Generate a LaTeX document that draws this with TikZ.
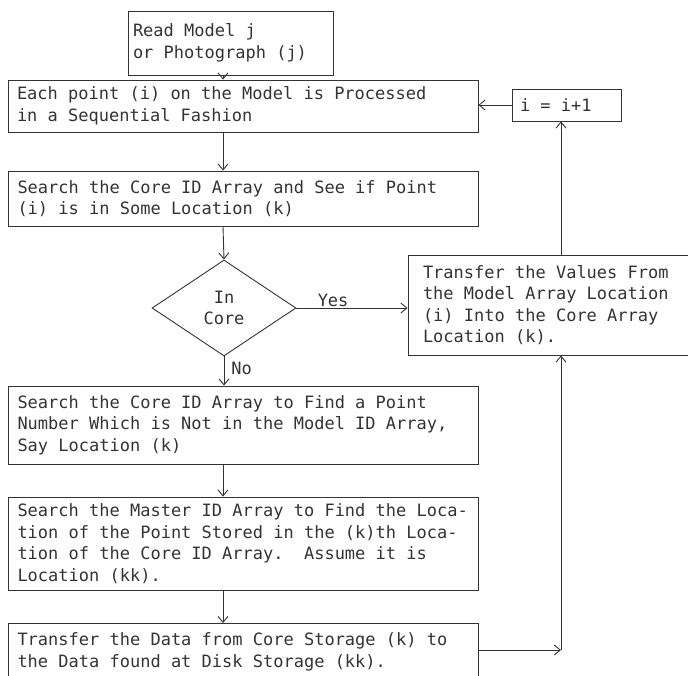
\documentclass[tikz,border=0pt]{standalone}
\usepackage{fontspec}
\setmonofont{DejaVu Sans Mono}
\usetikzlibrary{shapes.geometric, arrows.meta}
\definecolor{ink}{gray}{0.2}
\newcommand\fullspaces{\spaceskip=0.602em\xspaceskip=0.602em\relax}

\begin{document}
\begin{tikzpicture}[x=1pt, y=-1pt, line width=0.9pt, color=ink,
  font=\ttfamily\fontsize{17}{21.5}\selectfont,
  execute at begin node=\fullspaces,
  box/.style={shape=rectangle, draw=ink, align=left, inner xsep=9pt, text width=452pt},
  flow/.style={draw=ink, -{Straight Barb[length=6pt, width=10pt]}},
  lbl/.style={inner sep=1pt}]
\useasboundingbox (0,0) rectangle (688,675);
\clip (0,0) rectangle (688,675);
\coordinate (spine) at (223,0);
\node[box, minimum height=64pt, text width=195pt, inner xsep=5pt] (read) at (230.5,43) {Read Model j\\or Photograph (j)};
\node[box, minimum height=52pt] (each) at (243,106) {Each point (i) on the Model is Processed\\in a Sequential Fashion};
\node[box, minimum height=55pt] (find) at (243.5,198.5) {Search the Core ID Array and See if Point\\(i) is in Some Location (k)};
\node[shape=diamond, draw=ink, minimum width=144pt, minimum height=96pt, inner sep=0pt, align=center] (incore) at (224,308) {In\\Core};
\node[box, minimum height=100pt, text width=262pt, inner xsep=15pt] (move) at (554,305) {Transfer the Values From\\the Model Array Location\\(i) Into the Core Array\\Location (k).};
\node[box, minimum height=32pt, text width=93pt, inner xsep=8pt] (incr) at (566.5,105) {i = i+1};
\node[box, minimum height=78pt] (free) at (243.5,425) {Search the Core ID Array to Find a Point\\Number Which is Not in the Model ID Array,\\Say Location (k)};
\node[box, minimum height=93pt] (master) at (243.5,543.5) {Search the Master ID Array to Find the Loca-\\tion of the Point Stored in the (k)th Loca-\\tion of the Core ID Array.~~Assume it is\\Location (kk).};
\node[box, anchor=north, inner ysep=9.5pt] (store) at (243.5,623) {Transfer the Data from Core Storage (k) to\\the Data found at Disk Storage (kk).};

\draw[flow] (spine |- read.south) -- (spine |- each.north);
\draw[flow] (spine |- each.south) -- (spine |- find.north);
\draw[flow] (spine |- find.south) -- (incore.north);
\draw[flow] (incore.east) -- node[lbl, above, pos=0.33] (yes) {Yes} (incore.east -| move.west);
\draw[flow] (incore.south) -- node[lbl, right=6pt, pos=0.4] (no) {No} (incore.south |- free.north);
\draw[flow] (spine |- free.south) -- (spine |- master.north);
\draw[flow] (spine |- master.south) -- (spine |- store.north);
\coordinate (back) at (561,650);
\draw[flow] (store.east |- back) -- (back);
\draw[flow] (back) -- (back |- move.south);
\draw[flow] (back |- move.north) -- (back |- incr.south);
\draw[flow] (incr.west) -- (incr.west -| each.east);
\end{tikzpicture}
\end{document}
